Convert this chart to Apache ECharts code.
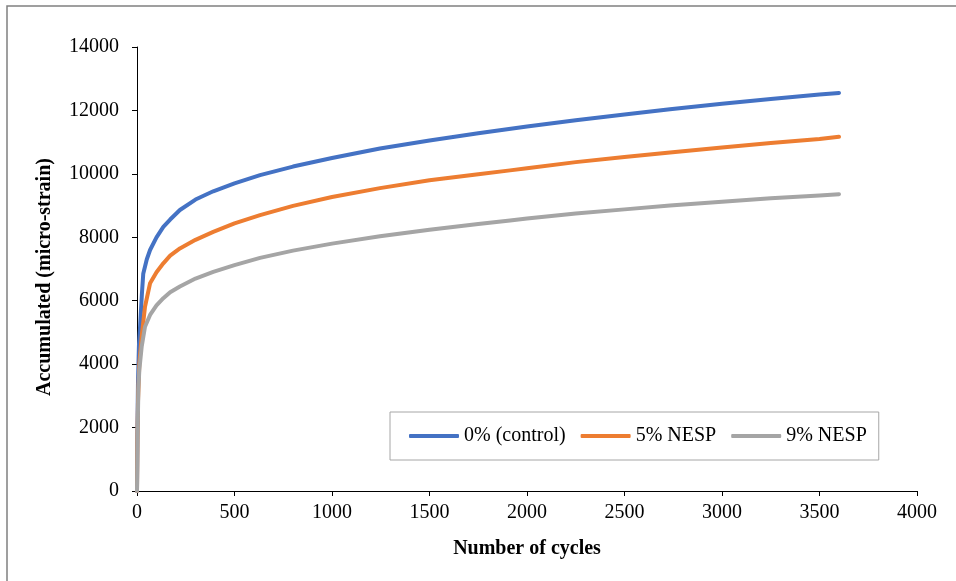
<!DOCTYPE html>
<html>
<head>
<meta charset="utf-8">
<script src="https://cdn.jsdelivr.net/npm/echarts@6/dist/echarts.min.js"></script>
<style>
html,body{margin:0;padding:0;background:#fff;}
#chart{width:956px;height:581px;}
</style>
</head>
<body>
<div id="chart"></div>
<script>
var seriesNames = ['0% (control)', '5% NESP', '9% NESP'];
var xTicks = [0, 500, 1000, 1500, 2000, 2500, 3000, 3500, 4000];
var yTicks = [0, 2000, 4000, 6000, 8000, 10000, 12000, 14000];

var control = [[0,0],[2,1800],[5,3400],[10,4600],[15,5100],[25,6200],[32,6850],[50,7300],[67,7600],[100,8000],[135,8330],[170,8560],[220,8860],[300,9190],[391,9450],[500,9700],[631,9960],[800,10230],[1000,10500],[1246,10800],[1500,11050],[1750,11280],[2000,11490],[2250,11690],[2500,11870],[2733,12040],[3000,12210],[3250,12360],[3500,12500],[3600,12550]];
var nesp5 = [[0,0],[2,1500],[5,2800],[12,4030],[24,4870],[41,5810],[67,6550],[100,6900],[135,7180],[170,7420],[220,7650],[300,7920],[391,8170],[500,8440],[631,8700],[800,8990],[1000,9270],[1246,9550],[1500,9800],[1750,9990],[1913,10110],[2000,10180],[2250,10370],[2500,10530],[2733,10670],[3000,10830],[3250,10970],[3500,11100],[3600,11170]];
var nesp9 = [[0,0],[3,1800],[7,3200],[12,3820],[24,4550],[41,5180],[67,5550],[100,5850],[135,6080],[170,6270],[220,6450],[300,6700],[391,6910],[500,7120],[631,7350],[800,7580],[1000,7800],[1246,8030],[1500,8240],[1750,8420],[1913,8530],[2000,8590],[2250,8750],[2500,8880],[2733,9000],[3000,9120],[3250,9230],[3500,9320],[3600,9360]];

var colors = ['#4472C4', '#ED7D31', '#A5A5A5'];
var font = 'Liberation Serif';
var chart = echarts.init(document.getElementById('chart'));
function mk(name, data, c) {
  return {name: name, type: 'line', data: data, symbol: 'none', showSymbol: false,
    lineStyle: {color: c, width: 4, cap: 'round', join: 'round'}, itemStyle: {color: c}, animation: false};
}
chart.setOption({
  animation: false,
  color: colors,
  graphic: [{type: 'rect', shape: {x: 7, y: 6, width: 1000, height: 1000},
    style: {fill: 'none', stroke: '#808080', lineWidth: 1.5}, silent: true, z: -1}],
  grid: {left: 137, right: 39, top: 47, bottom: 90, containLabel: false},
  legend: {
    show: true,
    left: 390, top: 412, orient: 'horizontal',
    padding: [14, 12, 14, 19], itemGap: 15, itemWidth: 50, itemHeight: 4,
    icon: 'roundRect',
    borderColor: '#A6A6A6', borderWidth: 1, backgroundColor: '#fff',
    textStyle: {fontFamily: font, fontSize: 20, color: '#000', lineHeight: 20},
    data: seriesNames
  },
  xAxis: {
    type: 'value', min: 0, max: 4000, interval: 500,
    name: 'Number of cycles', nameLocation: 'middle', nameGap: 48,
    nameTextStyle: {fontFamily: font, fontSize: 20, fontWeight: 'bold', color: '#000'},
    axisLine: {show: true, lineStyle: {color: '#000', width: 1}},
    axisTick: {show: true, inside: false, length: 5, lineStyle: {color: '#000'}},
    axisLabel: {fontFamily: font, fontSize: 20, color: '#000', margin: 12,
      formatter: function(v){ return xTicks.indexOf(v) >= 0 ? String(v) : ''; }},
    splitLine: {show: false}
  },
  yAxis: {
    type: 'value', min: 0, max: 14000, interval: 2000,
    name: 'Accumulated (micro-strain)', nameLocation: 'middle', nameGap: 82, nameRotate: 90,
    nameTextStyle: {fontFamily: font, fontSize: 20, fontWeight: 'bold', color: '#000', padding: [0, 16, 0, 0]},
    axisLine: {show: true, lineStyle: {color: '#000', width: 1}},
    axisTick: {show: true, inside: false, length: 5, lineStyle: {color: '#000'}},
    axisLabel: {fontFamily: font, fontSize: 20, color: '#000', margin: 18,
      formatter: function(v){ return yTicks.indexOf(v) >= 0 ? String(v) : ''; }},
    splitLine: {show: false}
  },
  series: [mk(seriesNames[0], control, colors[0]), mk(seriesNames[1], nesp5, colors[1]), mk(seriesNames[2], nesp9, colors[2])]
});
</script>
</body>
</html>
